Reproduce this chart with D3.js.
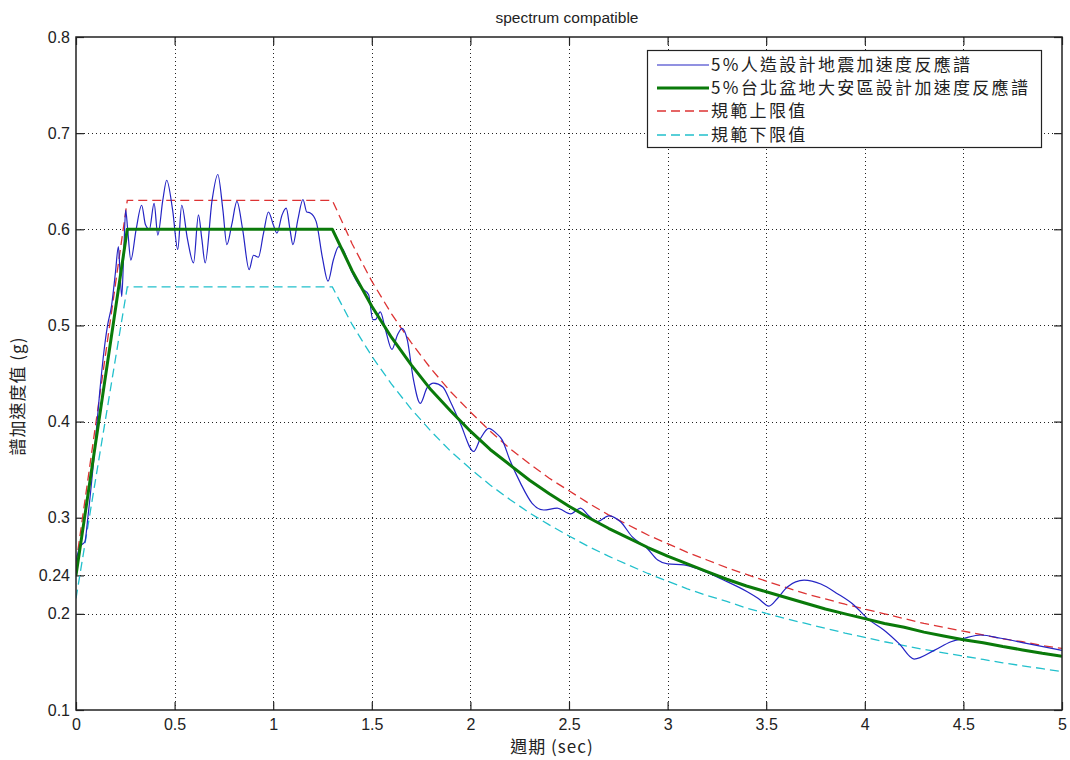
<!DOCTYPE html>
<html>
<head>
<meta charset="utf-8">
<script src="https://cdn.jsdelivr.net/npm/d3@7"></script>
<style>
  body { margin: 0; background: #fff; }
  svg { display: block; }
</style>
</head>
<body>
<svg id="chart" width="1070" height="760"></svg>
<script>
// ---------------- data ----------------
const chartTitle = "spectrum compatible";
const xLabel = "週期 (sec)";
const yLabel = "譜加速度值 (g)";
const xTicks = [0, 0.5, 1, 1.5, 2, 2.5, 3, 3.5, 4, 4.5, 5];
const yTicks = [0.1, 0.2, 0.24, 0.3, 0.4, 0.5, 0.6, 0.7, 0.8];
const seriesNames = ["5%人造設計地震加速度反應譜", "5%台北盆地大安區設計加速度反應譜", "規範上限值", "規範下限值"];

// artificial spectrum (blue)
const artT = [0,0.02,0.045,0.06,0.09,0.12,0.14,0.16,0.18,0.2,0.215,0.222,0.232,0.242,0.252,0.262,0.278,0.305,0.333,0.352,0.372,0.396,0.415,0.44,0.46,0.49,0.516,0.536,0.565,0.596,0.621,0.638,0.655,0.69,0.719,0.745,0.765,0.79,0.816,0.845,0.878,0.9,0.925,0.95,0.976,1.0,1.019,1.045,1.066,1.085,1.1,1.125,1.151,1.17,1.188,1.218,1.25,1.278,1.305,1.332,1.35,1.4,1.442,1.484,1.505,1.518,1.543,1.57,1.602,1.63,1.653,1.68,1.71,1.746,1.78,1.814,1.86,1.9,1.949,2.017,2.05,2.093,2.13,2.161,2.2,2.254,2.313,2.372,2.44,2.508,2.558,2.6,2.643,2.702,2.76,2.821,2.897,2.95,3.0,3.083,3.168,3.286,3.404,3.46,3.514,3.557,3.607,3.692,3.777,3.861,3.946,4.014,4.098,4.174,4.25,4.352,4.437,4.504,4.589,4.69,4.826,5.0];
const artSa = [0.255,0.27,0.275,0.30,0.36,0.43,0.47,0.50,0.52,0.555,0.582,0.56,0.53,0.575,0.62,0.60,0.568,0.60,0.625,0.605,0.60,0.627,0.594,0.63,0.651,0.62,0.579,0.625,0.59,0.565,0.615,0.59,0.565,0.63,0.657,0.62,0.584,0.605,0.629,0.60,0.558,0.573,0.571,0.595,0.618,0.605,0.596,0.615,0.622,0.60,0.584,0.61,0.631,0.618,0.617,0.608,0.57,0.546,0.568,0.582,0.58,0.555,0.540,0.532,0.506,0.506,0.514,0.495,0.475,0.49,0.497,0.485,0.445,0.419,0.435,0.44,0.436,0.42,0.398,0.369,0.382,0.393,0.388,0.381,0.36,0.336,0.315,0.308,0.31,0.304,0.31,0.302,0.296,0.302,0.296,0.28,0.268,0.256,0.252,0.251,0.2457,0.235,0.223,0.216,0.208,0.216,0.228,0.235,0.231,0.221,0.209,0.195,0.183,0.169,0.153,0.162,0.171,0.1746,0.178,0.1746,0.169,0.162];

// design spectrum periods (shared by the three code curves)
const codeT = [0,0.26,1.3,1.4,1.5,1.6,1.7,1.8,1.9,2.0,2.1,2.2,2.3,2.4,2.5,2.6,2.7,2.8,2.9,3.0,3.1,3.2,3.3,3.4,3.5,3.6,3.7,3.8,3.9,4.0,4.1,4.2,4.3,4.4,4.5,4.6,4.7,4.8,4.9,5.0];
const designSa = [0.24,0.60,0.600,0.557,0.520,0.4875,0.459,0.433,0.411,0.390,0.371,0.355,0.339,0.325,0.312,0.300,0.289,0.279,0.269,0.260,0.252,0.244,0.236,0.229,0.223,0.217,0.211,0.205,0.200,0.195,0.190,0.186,0.181,0.177,0.173,0.170,0.166,0.1625,0.159,0.156];
const upperSa = [0.252,0.63,0.630,0.585,0.546,0.512,0.482,0.455,0.431,0.410,0.390,0.372,0.356,0.341,0.328,0.315,0.303,0.2925,0.282,0.273,0.264,0.256,0.248,0.241,0.234,0.2275,0.221,0.2155,0.210,0.205,0.200,0.195,0.190,0.186,0.182,0.178,0.174,0.171,0.167,0.164];
const lowerSa = [0.216,0.54,0.540,0.501,0.468,0.439,0.413,0.390,0.369,0.351,0.334,0.319,0.305,0.2925,0.281,0.270,0.260,0.251,0.242,0.234,0.226,0.219,0.213,0.206,0.2005,0.195,0.190,0.185,0.180,0.1755,0.171,0.167,0.163,0.1595,0.156,0.1526,0.149,0.146,0.143,0.140];

// ---------------- layout ----------------
const svg = d3.select("#chart");
const L = 76, R = 1062, T = 37, B = 710;
const x = d3.scaleLinear().domain([0, 5]).range([L, R]);
const y = d3.scaleLinear().domain([0.1, 0.8]).range([B, T]);
const FONT = "Liberation Sans, Arial, sans-serif";
const CJK = "'Noto Sans CJK TC', 'Noto Sans CJK SC', sans-serif";

svg.append("rect").attr("width", 1070).attr("height", 760).attr("fill", "#fff");

// grid
const grid = svg.append("g").attr("stroke", "#222").attr("stroke-width", 1).attr("stroke-dasharray", "1,3");
grid.selectAll(".gx").data(xTicks.slice(1, -1)).join("line")
  .attr("x1", d => Math.round(x(d)) + 0.5).attr("x2", d => Math.round(x(d)) + 0.5)
  .attr("y1", T).attr("y2", B);
grid.selectAll(".gy").data(yTicks.slice(1, -1)).join("line")
  .attr("y1", d => Math.round(y(d)) + 0.5).attr("y2", d => Math.round(y(d)) + 0.5)
  .attr("x1", L).attr("x2", R);

// axes (ticks inward, on all four sides)
const tl = 8;
const axB = svg.append("g").attr("transform", `translate(0,${B})`)
  .call(d3.axisBottom(x).tickValues(xTicks).tickSize(-tl).tickPadding(12).tickFormat(d3.format("")));
const axT = svg.append("g").attr("transform", `translate(0,${T})`)
  .call(d3.axisTop(x).tickValues(xTicks).tickSize(-tl).tickFormat(""));
const axL = svg.append("g").attr("transform", `translate(${L},0)`)
  .call(d3.axisLeft(y).tickValues(yTicks).tickSize(-tl).tickPadding(6).tickFormat(d3.format("")));
const axR = svg.append("g").attr("transform", `translate(${R},0)`)
  .call(d3.axisRight(y).tickValues(yTicks).tickSize(-tl).tickFormat(""));
[axB, axT, axL, axR].forEach(a => {
  a.select(".domain").remove();
  a.selectAll(".tick line").attr("stroke", "#222").attr("stroke-width", 1.2);
  a.selectAll("text").attr("font-family", FONT).attr("font-size", 16).attr("fill", "#222");
});
axB.selectAll("text").attr("dy", "0.5em");

// curves
const line = d3.line().x(d => x(d[0])).y(d => y(d[1]));
const smooth = d3.line().x(d => x(d[0])).y(d => y(d[1])).curve(d3.curveMonotoneX);
const clip = svg.append("clipPath").attr("id", "clip").append("rect")
  .attr("x", L).attr("y", T).attr("width", R - L).attr("height", B - T);
const plot = svg.append("g").attr("clip-path", "url(#clip)");

plot.append("path").datum(codeT.map((t, i) => [t, lowerSa[i]])).attr("d", line)
  .attr("fill", "none").attr("stroke", "#22c0cc").attr("stroke-width", 1.3).attr("stroke-dasharray", "9,5");
plot.append("path").datum(codeT.map((t, i) => [t, upperSa[i]])).attr("d", line)
  .attr("fill", "none").attr("stroke", "#dd3333").attr("stroke-width", 1.3).attr("stroke-dasharray", "9,5");
plot.append("path").datum(artT.map((t, i) => [t, artSa[i]])).attr("d", smooth)
  .attr("fill", "none").attr("stroke", "#2424c4").attr("stroke-width", 1.2);
plot.append("path").datum(codeT.map((t, i) => [t, designSa[i]])).attr("d", line)
  .attr("fill", "none").attr("stroke", "#0a7a0a").attr("stroke-width", 3).attr("stroke-linejoin", "round");

// frame
svg.append("rect").attr("x", L).attr("y", T).attr("width", R - L).attr("height", B - T)
  .attr("fill", "none").attr("stroke", "#222").attr("stroke-width", 1.5);

// title and labels
svg.append("text").attr("x", 567).attr("y", 23).attr("text-anchor", "middle")
  .attr("font-family", FONT).attr("font-size", 15.5).attr("fill", "#222").text(chartTitle);
svg.append("text").attr("x", 552).attr("y", 753).attr("text-anchor", "middle")
  .attr("font-family", CJK).attr("font-size", 17).attr("letter-spacing", 1).attr("fill", "#222").text(xLabel);
svg.append("text").attr("transform", "translate(24,396) rotate(-90)").attr("text-anchor", "middle")
  .attr("font-family", CJK).attr("font-size", 17).attr("letter-spacing", 1).attr("fill", "#222").text(yLabel);

// legend
const lg = svg.append("g");
lg.append("rect").attr("x", 647.5).attr("y", 50.5).attr("width", 394).attr("height", 97)
  .attr("fill", "#fff").attr("stroke", "#222").attr("stroke-width", 1.2);
const lgStyles = [
  { c: "#2424c4", w: 1.2, d: null },
  { c: "#0a7a0a", w: 3, d: null },
  { c: "#dd3333", w: 1.3, d: "9,5" },
  { c: "#22c0cc", w: 1.3, d: "9,5" }
];
const lgY = [65, 88, 111, 135];
seriesNames.forEach((n, i) => {
  lg.append("line").attr("x1", 657).attr("x2", 709).attr("y1", lgY[i]).attr("y2", lgY[i])
    .attr("stroke", lgStyles[i].c).attr("stroke-width", lgStyles[i].w)
    .attr("stroke-dasharray", lgStyles[i].d);
  lg.append("text").attr("x", 711).attr("y", lgY[i]).attr("dy", "0.36em")
    .attr("font-family", CJK).attr("font-size", 17).attr("letter-spacing", 2.3).attr("fill", "#222").text(n);
});
</script>
</body>
</html>
